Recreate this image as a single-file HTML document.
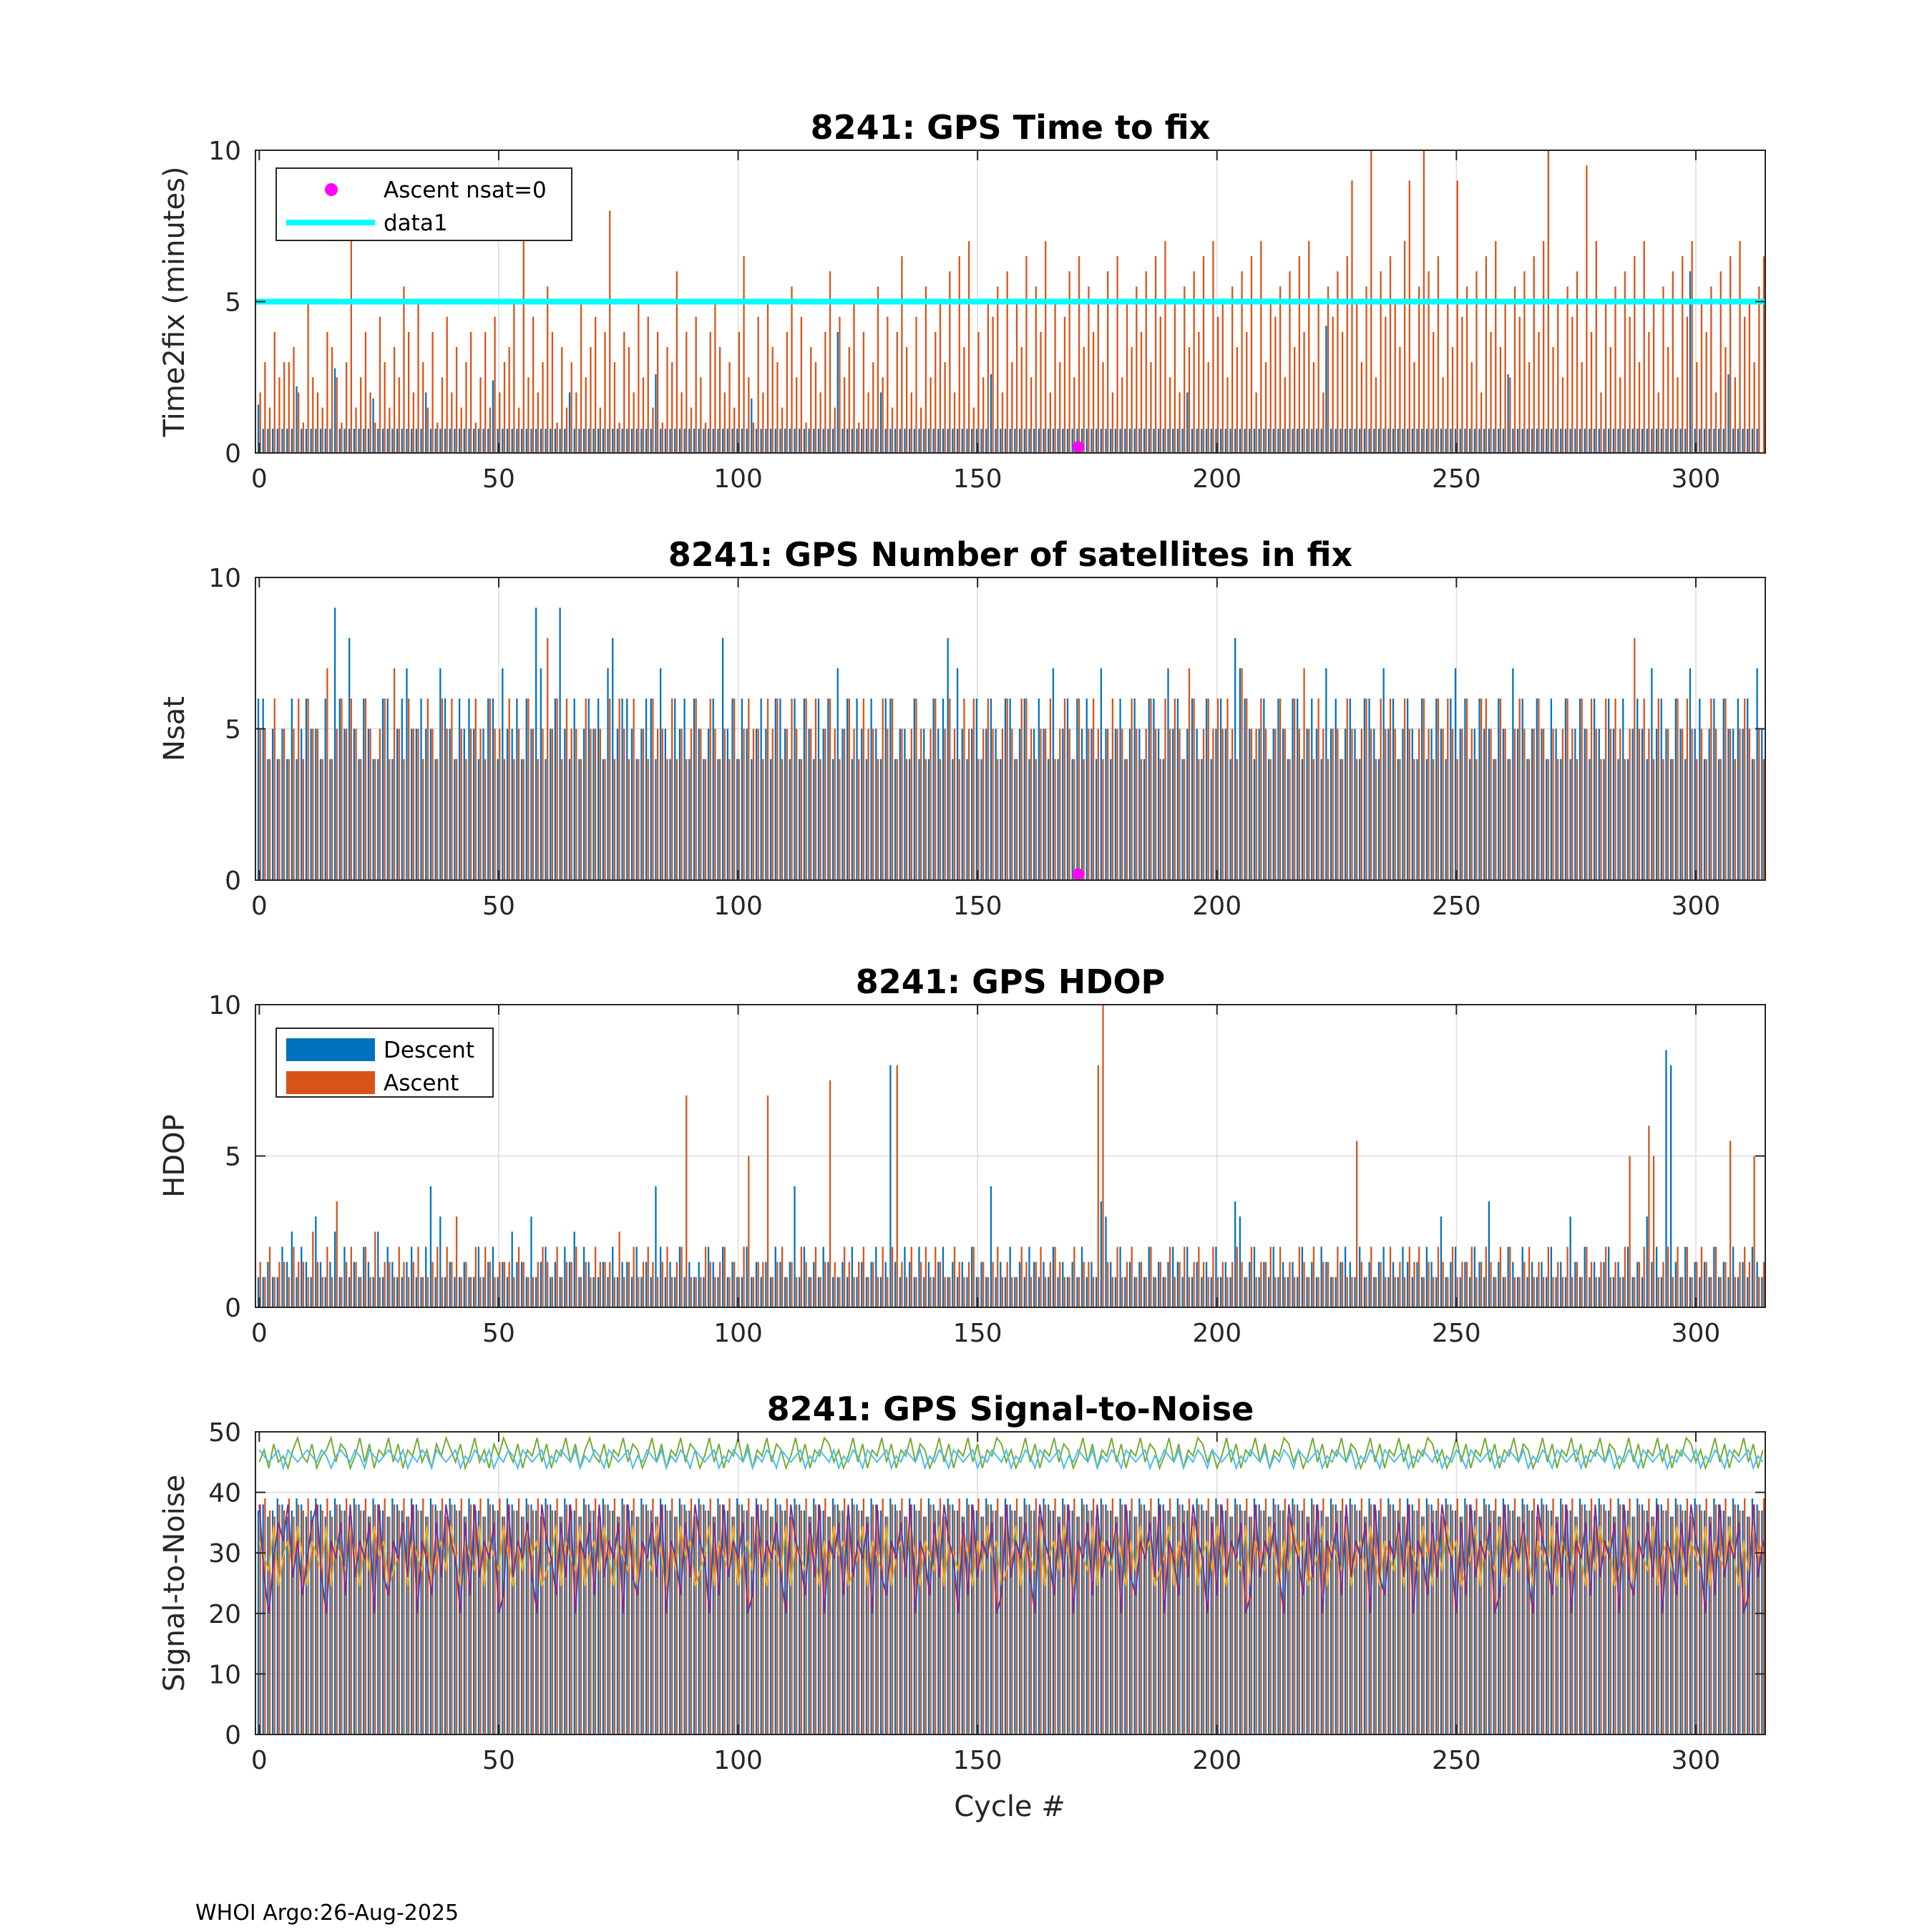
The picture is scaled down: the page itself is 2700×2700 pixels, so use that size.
<!DOCTYPE html>
<html><head><meta charset="utf-8">
<style>
html,body{margin:0;padding:0;background:#fff;}
svg{display:block;font-family:"DejaVu Sans","Liberation Sans",sans-serif;}
</style></head>
<body>
<svg id="chart" width="2700" height="2700" viewBox="0 0 2700 2700" xmlns="http://www.w3.org/2000/svg">
<rect x="0" y="0" width="2700" height="2700" fill="#fff"/>
<text x="273" y="2683" font-size="30" fill="#000">WHOI Argo:26-Aug-2025</text>
<text x="1411" y="2538" font-size="40" fill="#262626" text-anchor="middle">Cycle #</text>
</svg>
<script>
function toVals(s, sc, off){ return s.split('').map(function(c){ return parseInt(c,36)*sc+off; }); }
const xTicks = [0,50,100,150,200,250,300];
const yTicksA = [0,5,10];
const yTicksS = [0,10,20,30,40,50];
const titles = ["8241: GPS Time to fix","8241: GPS Number of satellites in fix","8241: GPS HDOP","8241: GPS Signal-to-Noise"];
const yLabels = ["Time2fix (minutes)","Nsat","HDOP","Signal-to-Noise"];
const tAsc = toVals(
"4638566742a54387526e3584296375b84a63825947368"+
"25839467a3e5946b827364a57938g62874a5938276c48"+
"39528a74638d5294a7638b5927648c3957a2846b5938d"+
"7493b58a6c4d7e385a9b4c6a7d5b8e4a69c5d7b8a6c4d"+
"5a7b8c6d9e5a4b7c8d6e9a5b7c8d4e6a9b5c7d8e6a4b9"+
"c8dia6bk5c9da7ei6bkc8d5a7i9b6c4d8e7a5b9c6d8ek"+
"7a5b9c6j8e4a7b5c9d6e8a4b7c5d9e6a8b4c7d5e9a6bd",0.5,0);
const tDesc = toVals(
"84444444b4444444e444444494444444444a444444444"+
"4444c444444444444444a44444444444444444d444444"+
"4444444444444944444444444444444k44444444a4444"+
"444444444444444444d4444444444444444444444444"+
"444444444444444a4444444444444444444444444444l"+
"4444444444444444444444444444444444444d444444"+
"4444444444444444444444444444444u4444444d444444",0.2,0);
const nDesc = toVals(
"664545464565546496585465446645675565547654656"+
"545664755646597456954645656478566545664754656"+
"465456485646545654665464654656475646546546645"+
"546454656847545645654664564565474564656547545"+
"645654665475645654645654876545645654664565475"+
"645654665475645654645654675645655465475645654"+
"6546456546546546456547565465475645646556564757",1,0);
const nAsc = toVals(
"554645456465547456565465456475465546546564545"+
"654655464546545856465546555464654645465546454"+
"565465454645655465645654656456545654655465645"+
"456545645654656456545654665455645654645654565"+
"546545654656547645656565476556545654657546545"+
"546545654656546545654656545654665465456545654"+
"545654656546565458565464546565454654654565454",1,0);
const hDesc = toVals(
"2232243524326323524232432524322342248262322322"+
"4234232533262342324352432232423324232842324232"+
"3243242322423232432382423243223242323423g32432"+
"4232342323242328232423243232423232423276324232"+
"3242323432423232423276234232423232423243223432"+
"4232342324323243262342324327232432423232423263"+
"242323423242326342hg3242323242324232432423242",0.5,0);
const hAsc = toVals(
"3242332433253242723432425233243234223424362324"+
"2432333243223432423342324333252342343234234e22"+
"2432342324a233e234232432423f3243234232424g3242"+
"3424322432342323423224323423432242332gk3242342"+
"324232423423432423234324233424232432423324322b"+
"3242324232434232432423342343242422342324232423"+
"2432342324a234ca234242423432423b2343a23242342",0.5,0);
const sDesc = toVals(
"786798679867986798769876987698769876987698769"+
"876987698769876987698769876987698769876987698"+
"769876987698769876987698769876987698769876987"+
"698769876987698769876987698769876987698769876"+
"987698769876987698769876987698769876987698769"+
"876987698769876987698769876987698769876987698"+
"769876987698769876987698769876987698769876987",1,30);
const sAsc = toVals(
"897687968796879687968796879687968796879687968"+
"796879687968796879687968796879687968796879687"+
"968796879687968796879687968796879687968796879"+
"687968796879687968796879687968796879687968796"+
"879687968796879687968796879687968796879687968"+
"796879687968796879687968796879687968796879687"+
"968796879687968796879687968796879687968796879",1,30);
const sGreen = toVals(
"574856479658467958746958476958476957486975846"+
"957486975847695847695847965847695874695847695"+
"874695847695847695874695847698574695847695847"+
"695874695847695847698574695847695874695847695"+
"847695874695847698574695847695847698574695847"+
"695874695847695847698574695847695847695874695"+
"847695847695874695847695847698574695847695847",1,40);
const sCyan = toVals(
"765674765676576467657647656765746576476567465"+
"765746576476567465765746576476567465765746576"+
"476567465765746576476567465765746576476567465"+
"765746576476567465765746576476567465765746576"+
"476567465765746576476567465765746576476567465"+
"765746576476567465765746576476567465765746576"+
"476567465765746576476567465765746576476567465",1,40);
const sPurple = toVals(
"kgehjikgifhjkgeihjfkgihjekgfihjgkeihfjgkihejf"+
"kgihjefkgihjgekihfjgkeihjfkgihjekgfihjgkeihfj"+
"gkihejfkgihjefkgihjgekihfjgkeihjfkgihjekgfihj"+
"gkeihfjgkihejfkgihjefkgihjgekihfjgkeihjfkgihj"+
"ekgfihjgkeihfjgkihejfkgihjefkgihjgekihfjgkeih"+
"jfkgihjekgfihjgkeihfjgkihejfkgihjefkgihjgekih"+
"fjgkeihjfkgihjekgfihjgkeihfjgkihejfkgihjefkgih",3,-22);
const sYellow = toVals(
"ihgjfhigjhfihgjfihgjhfigjhifghjfihgjfhigjhfih"+
"gjfihgjhfigjhifghjfihgjfhigjhfihgjfihgjhfigjh"+
"ifghjfihgjfhigjhfihgjfihgjhfigjhifghjfihgjfhi"+
"gjhfihgjfihgjhfigjhifghjfihgjfhigjhfihgjfihgj"+
"hfigjhifghjfihgjfhigjhfihgjfihgjhfigjhifghjfi"+
"hgjfhigjhfihgjfihgjhfigjhifghjfihgjfhigjhfihg"+
"jfihgjhfigjhifghjfihgjfhigjhfihgjfihgjhfigjhi",2.5,-13);
const magentaX = [171];
const magentaY = [0.2];

const NS = "http://www.w3.org/2000/svg";
const svg = document.getElementById('chart');
const L = 357, R = 2467, H = 423;
const tops = [210, 807, 1404, 2001];
const xmin = -0.8, xmax = 314.5;
function xs(v){ return L + (v - xmin) / (xmax - xmin) * (R - L); }
function mk(tag, attrs, parent){ const e = document.createElementNS(NS, tag); for (const k in attrs) e.setAttribute(k, attrs[k]); (parent || svg).appendChild(e); return e; }

function panel(p, ymax, yTicks){
  const top = tops[p], bot = top + H;
  const ys = function(v){ return bot - v / ymax * H; };
  const g = mk('g', {});
  
  
  const cp = mk('clipPath', {id: 'cp' + p}, g);
  mk('rect', {x: L, y: top, width: R - L, height: H}, cp);
  const grid = mk('g', {stroke: '#dcdcdc', 'stroke-width': 1.5}, g);
  
  
  xTicks.forEach(function(t){ if (t > 0) mk('line', {x1: xs(t), x2: xs(t), y1: top, y2: bot}, grid); });
  yTicks.forEach(function(t){ if (t > 0 && t < ymax) mk('line', {x1: L, x2: R, y1: ys(t), y2: ys(t)}, grid); });
  return {g: g, ys: ys, top: top, bot: bot};
}
function bars(P, vals, off, color, name){
  const bg = mk('g', {fill: color, 'clip-path': 'url(#cp' + P.idx + ')'}, P.g);
  
  
  const w = (xs(0.34) - xs(0));
  vals.forEach(function(v, i){
    const y = P.ys(v);
    const r = mk('rect', {x: xs(i + off) - w / 2, y: Math.min(y, P.bot), width: w, height: Math.abs(P.bot - y)}, bg);
    
    
  });
}
function line(P, vals, color, name){
  const pts = vals.map(function(v, i){ return xs(i) + ',' + P.ys(v); }).join(' ');
  const pl = mk('polyline', {points: pts, fill: 'none', stroke: color, 'stroke-width': 2, 'clip-path': 'url(#cp' + P.idx + ')'}, P.g);
  
  
}
function frame(P, p, ymax, yTicks){
  const top = P.top, bot = P.bot, g = P.g;
  const box = mk('rect', {x: L, y: top, width: R - L, height: H, fill: 'none', stroke: '#262626', 'stroke-width': 2}, g);
  
  
  const tk = mk('g', {stroke: '#262626', 'stroke-width': 2}, g);
  xTicks.forEach(function(t){
    mk('line', {x1: xs(t), x2: xs(t), y1: bot, y2: bot - 14}, tk);
    mk('line', {x1: xs(t), x2: xs(t), y1: top, y2: top + 14}, tk);
    const tx = mk('text', {x: xs(t), y: bot + 48, 'font-size': 36, fill: '#262626', 'text-anchor': 'middle'}, g);
    tx.textContent = t;
    
    
  });
  yTicks.forEach(function(t){
    const y = P.ys(t);
    mk('line', {x1: L, x2: L + 14, y1: y, y2: y}, tk);
    mk('line', {x1: R, x2: R - 14, y1: y, y2: y}, tk);
    const ty = mk('text', {x: L - 20, y: y + 13, 'font-size': 36, fill: '#262626', 'text-anchor': 'end'}, g);
    ty.textContent = t;
    
    
  });
  const tt = mk('text', {x: 1412, y: top - 16, 'font-size': 46, 'font-weight': 'bold', fill: '#000', 'text-anchor': 'middle'}, g);
  tt.textContent = titles[p];
  
  
  const yl = mk('text', {x: 0, y: 0, 'font-size': 40, fill: '#262626', 'text-anchor': 'middle', transform: 'translate(257,' + (top + H / 2) + ') rotate(-90)'}, g);
  yl.textContent = yLabels[p];
  
  
}
function dots(P){
  magentaX.forEach(function(x, i){
    const c = mk('circle', {cx: xs(x), cy: P.ys(magentaY[i]), r: 8, fill: '#ff00ff'}, P.g);
    
    
  });
}
function legend(g, x, y, w, h, items){
  const lg = mk('g', {}, g);
  
  
  mk('rect', {x: x, y: y, width: w, height: h, fill: '#fff', stroke: '#262626', 'stroke-width': 2}, lg);
  items.forEach(function(it, i){
    const cy = y + 30 + i * 46;
    const e = mk('g', {}, lg);
    
    
    if (it.type === 'dot') mk('circle', {cx: x + 77, cy: cy, r: 9, fill: it.color}, e);
    else if (it.type === 'line') mk('line', {x1: x + 14, x2: x + 138, y1: cy, y2: cy, stroke: it.color, 'stroke-width': 8}, e);
    else mk('rect', {x: x + 14, y: cy - 16, width: 124, height: 32, fill: it.color}, e);
    const t = mk('text', {x: x + 150, y: cy + 11, 'font-size': 31, fill: '#000'}, e);
    t.textContent = it.label;
  });
}

// Panel 1
let P = panel(0, 10, yTicksA); P.idx = 0;
bars(P, tDesc, -0.2, '#0072BD', 'descent-time2fix');
bars(P, tAsc, 0.2, '#D95319', 'ascent-time2fix');
const cl = mk('line', {x1: L, x2: R, y1: P.ys(5), y2: P.ys(5), stroke: '#00FFFF', 'stroke-width': 8}, P.g);


dots(P);
frame(P, 0, 10, yTicksA);
legend(P.g, 386, 235, 413, 101, [{type: 'dot', color: '#ff00ff', label: 'Ascent nsat=0'}, {type: 'line', color: '#00FFFF', label: 'data1'}]);

// Panel 2
P = panel(1, 10, yTicksA); P.idx = 1;
bars(P, nDesc, -0.2, '#0072BD', 'descent-nsat');
bars(P, nAsc, 0.2, '#D95319', 'ascent-nsat');
dots(P);
frame(P, 1, 10, yTicksA);

// Panel 3
P = panel(2, 10, yTicksA); P.idx = 2;
bars(P, hDesc, -0.2, '#0072BD', 'descent-hdop');
bars(P, hAsc, 0.2, '#D95319', 'ascent-hdop');
frame(P, 2, 10, yTicksA);
legend(P.g, 386, 1437, 303, 96, [{type: 'patch', color: '#0072BD', label: 'Descent'}, {type: 'patch', color: '#D95319', label: 'Ascent'}]);

// Panel 4
P = panel(3, 50, yTicksS); P.idx = 3;
bars(P, sDesc, -0.2, '#0072BD', 'descent-snr');
bars(P, sAsc, 0.2, '#D95319', 'ascent-snr');
line(P, sGreen, '#77AC30', 'snr-green-line');
line(P, sCyan, '#4DBEEE', 'snr-cyan-line');
line(P, sYellow, '#EDB120', 'snr-yellow-line');
line(P, sPurple, '#7E2F8E', 'snr-purple-line');
frame(P, 3, 50, yTicksS);
</script>
</body></html>
